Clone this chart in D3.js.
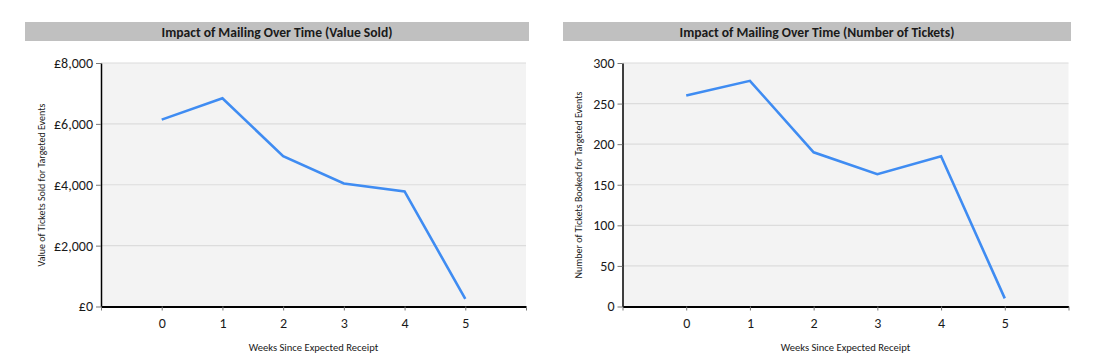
<!DOCTYPE html>
<html>
<head>
<meta charset="utf-8">
<script src="https://cdn.jsdelivr.net/npm/d3@7"></script>
<style>
  html, body { margin: 0; padding: 0; background: #ffffff; }
  svg { display: block; }
  text { font-family: Carlito, Lato, "Open Sans", sans-serif; fill: #1a1a1a; }
</style>
</head>
<body>
<svg id="chart" width="1117" height="364"></svg>
<script>
// ---- data ----
const weeks = [0, 1, 2, 3, 4, 5];
const valueSold = [6140, 6840, 4940, 4040, 3780, 250];
const ticketsBooked = [260, 278, 190, 163, 185, 10];
const valueTicks = [0, 2000, 4000, 6000, 8000];
const ticketTicks = [0, 50, 100, 150, 200, 250, 300];
const weekTicks = [-1, 0, 1, 2, 3, 4, 5, 6];
const titles = ["Impact of Mailing Over Time (Value Sold)", "Impact of Mailing Over Time (Number of Tickets)"];
const yTitles = ["Value of Tickets Sold for Targeted Events", "Number of Tickets Booked for Targeted Events"];
const xTitle = "Weeks Since Expected Receipt";

const svg = d3.select("#chart");

const panels = [
  { values: valueSold, yMax: 8000, yTicks: valueTicks, fmt: v => "£" + d3.format(",")(v),
    bar: [25, 529], plot: [101, 526], yTitleX: 41, title: titles[0], yTitle: yTitles[0] },
  { values: ticketsBooked, yMax: 300, yTicks: ticketTicks, fmt: d3.format("d"),
    bar: [563, 1071], plot: [622.5, 1068.5], yTitleX: 578, title: titles[1], yTitle: yTitles[1] }
];

const plotTop = 63, plotBottom = 306.5;

panels.forEach(p => {
  const g = svg.append("g");
  const x = d3.scaleLinear().domain([-1, 6]).range(p.plot);
  const y = d3.scaleLinear().domain([0, p.yMax]).range([plotBottom, plotTop]);

  // title bar
  g.append("rect").attr("x", p.bar[0]).attr("y", 22).attr("width", p.bar[1] - p.bar[0]).attr("height", 19)
    .attr("fill", "#c0c0c0");
  g.append("text").attr("x", (p.bar[0] + p.bar[1]) / 2).attr("y", 36.5)
    .attr("text-anchor", "middle").attr("font-weight", "bold").attr("font-size", 13.6)
    .text(p.title);

  // plot background
  g.append("rect").attr("x", p.plot[0]).attr("y", plotTop).attr("width", p.plot[1] - p.plot[0])
    .attr("height", plotBottom - plotTop).attr("fill", "#f3f3f3");

  // gridlines
  g.append("g").selectAll("line").data(p.yTicks.filter(t => t > 0)).join("line")
    .attr("x1", p.plot[0]).attr("x2", p.plot[1])
    .attr("y1", d => y(d)).attr("y2", d => y(d))
    .attr("stroke", "#dcdcdc").attr("stroke-width", 1.2);

  // y axis
  const ya = g.append("g").attr("transform", `translate(${p.plot[0]},0)`)
    .call(d3.axisLeft(y).tickValues(p.yTicks).tickFormat(p.fmt).tickSize(5).tickPadding(3).tickSizeOuter(0));
  ya.select(".domain").attr("stroke", "#000").attr("stroke-width", 1.5);
  ya.selectAll(".tick line").attr("stroke", "#777");
  ya.selectAll(".tick text").attr("font-size", 14).attr("fill", "#1a1a1a");

  // x axis
  const xa = g.append("g").attr("transform", `translate(0,${plotBottom})`)
    .call(d3.axisBottom(x).tickValues(weekTicks)
      .tickFormat(d => weeks.includes(d) ? d : "").tickSize(4).tickPadding(8).tickSizeOuter(0));
  xa.select(".domain").attr("stroke", "#000").attr("stroke-width", 2);
  xa.selectAll(".tick line").attr("stroke", "#777");
  xa.selectAll(".tick text").attr("font-size", 14).attr("fill", "#1a1a1a");

  // line
  const line = d3.line().x((d, i) => x(weeks[i])).y(d => y(d));
  g.append("path").datum(p.values).attr("d", line)
    .attr("fill", "none").attr("stroke", "#3f8cf2").attr("stroke-width", 2.6)
    .attr("stroke-linejoin", "miter");

  // axis titles
  g.append("text").attr("x", (p.plot[0] + p.plot[1]) / 2).attr("y", 351)
    .attr("text-anchor", "middle").attr("font-size", 10.6).text(xTitle);
  g.append("text").attr("transform", `translate(${p.yTitleX + 3.5},185) rotate(-90)`)
    .attr("text-anchor", "middle").attr("font-size", 10).text(p.yTitle);
});
</script>
</body>
</html>
